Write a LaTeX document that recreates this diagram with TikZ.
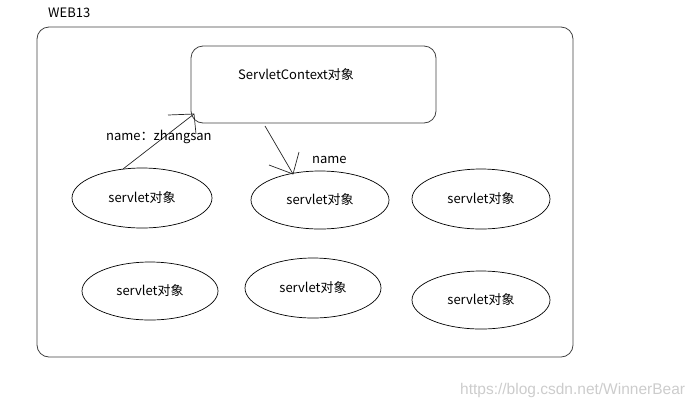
\documentclass[tikz,border=0pt]{standalone}
\usepackage{fontspec}
\usetikzlibrary{shapes.geometric}
\setmainfont{Noto Sans CJK SC}
\newfontfamily\wmfont{Liberation Sans}
\begin{document}
\begin{tikzpicture}[x=1pt,y=-1pt,
  box/.style={draw=black!75,line width=0.8pt,rounded corners=12pt},
  obj/.style={draw=black,line width=0.7pt,ellipse,inner sep=0pt,font=\fontsize{13}{15}\selectfont},
  lbl/.style={font=\fontsize{13}{15}\selectfont,inner sep=0pt},
  conn/.style={draw=black!85,line width=0.7pt}]
\useasboundingbox (0,0) rectangle (700,408);
\draw[box] (37,27) rectangle (573,357);
\node[lbl,anchor=west] (web) at (48,13) {WEB13};
\draw[box] (191,46) rectangle (436,123);
\node[lbl] (ctx) at (296,75) {ServletContext对象};
\node[obj,minimum width=140pt,minimum height=60pt] (s1) at (142,198) {servlet对象};
\node[obj,minimum width=138pt,minimum height=58pt] (s2) at (320,200) {servlet对象};
\node[obj,minimum width=138pt,minimum height=60pt] (s3) at (481,199) {servlet对象};
\node[obj,minimum width=136pt,minimum height=58pt] (s4) at (150,291) {servlet对象};
\node[obj,minimum width=136pt,minimum height=60pt] (s5) at (313,288) {servlet对象};
\node[obj,minimum width=138pt,minimum height=58pt] (s6) at (481,300) {servlet对象};
% arrow 1
\coordinate (a1s) at (123,169);
\coordinate (a1t) at (194,114);
\coordinate (a1b1) at (168,115);
\coordinate (a1b2) at (196,134);
\draw[conn] (a1s) -- (a1t);
\draw[conn] (a1b1) -- (a1t) -- (a1b2);
% arrow 2
\coordinate (a2s) at (265,126);
\coordinate (a2t) at (293,174);
\coordinate (a2b1) at (269,165);
\coordinate (a2b2) at (299,152);
\draw[conn] (a2s) -- (a2t);
\draw[conn] (a2b1) -- (a2t) -- (a2b2);
\node[lbl,anchor=west] (n1) at (106,137) {name：zhangsan};
\node[lbl,anchor=west] (n2) at (312,160) {name};
\node[anchor=west,inner sep=0pt,text=black!20,font=\wmfont\fontsize{15.5}{18}\selectfont] (wm) at (460,390) {https://blog.csdn.net/WinnerBear};
\end{tikzpicture}
\end{document}
